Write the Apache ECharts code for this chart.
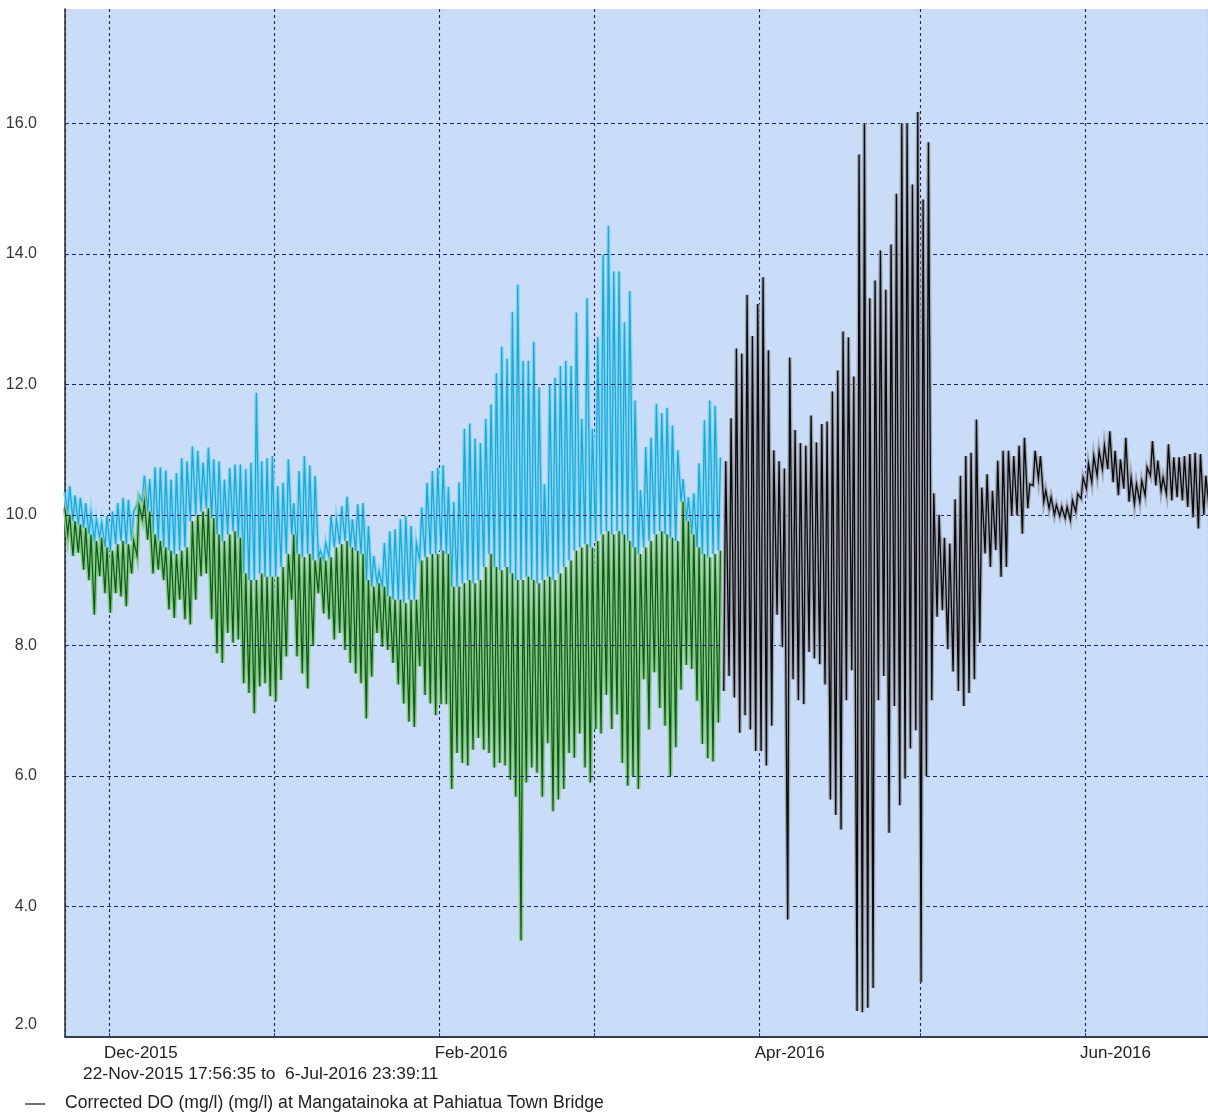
<!DOCTYPE html>
<html>
<head>
<meta charset="utf-8">
<script src="https://cdn.jsdelivr.net/npm/echarts@6/dist/echarts.min.js"></script>
<style>
html,body{margin:0;padding:0;background:#fff;}
#c{width:1208px;height:1115px;}
</style>
</head>
<body>
<div id="c"></div>
<script>
// ---- data ----
// day index n: date = 22-Nov-2015 + n days
// Upper (cyan) series: daily maxima, days 1..123
const cyanMax = [10.44,10.3,10.26,10.18,10.03,9.93,9.88,9.98,10.05,10.18,10.26,10.23,10.05,10.3,10.6,10.55,10.73,10.73,10.68,10.54,10.64,10.87,10.82,11.05,10.98,10.8,11.03,10.85,10.82,10.54,10.72,10.77,10.77,10.7,10.8,11.87,10.82,10.87,10.9,
10.44,10.49,10.85,10.18,10.67,10.9,10.76,10.6,9.45,9.57,9.98,9.93,10.13,10.28,9.93,10.16,10.18,9.83,9.37,9.14,9.57,9.75,9.78,9.93,9.98,9.83,9.57,10.11,10.49,10.67,10.72,
10.76,10.43,10.2,10.5,11.32,11.4,11.17,11.1,11.47,11.69,12.17,12.58,12.39,13.11,13.53,12.36,12.36,12.65,11.95,10.47,11.99,12.1,12.28,12.36,12.28,13.1,11.47,13.32,11.32,12.73,13.99,14.43,13.73,13.73,12.95,13.43,
11.75,10.38,11.04,11.18,11.7,11.56,11.64,11.37,10.99,10.55,10.27,10.33,10.79,11.45,11.75,11.67,10.88];
// boundary between cyan and green (green daily maxima / cyan daily minima), days 1..123
const boundary = [10.0,9.9,9.85,9.8,9.7,9.6,9.65,
9.5,9.45,9.55,9.6,9.55,9.6,
10.15,10.2,10.05,
9.7,9.6,9.5,9.45,9.4,9.45,9.5,
9.9,10.0,10.05,10.1,9.95,
9.7,9.6,9.7,9.75,9.65,
9.1,9.0,9.0,9.1,9.05,9.05,
9.05,9.2,9.4,9.7,9.4,9.35,9.4,9.3,
9.35,9.3,9.35,
9.5,9.55,9.6,9.5,9.45,9.4,
9.0,8.9,8.95,8.9,
8.75,8.7,8.7,8.65,8.7,8.7,
9.3,9.35,9.4,9.4,9.45,9.4,
8.9,8.9,8.95,9.0,8.95,9.0,9.2,9.4,
9.2,9.15,9.2,9.1,9.0,9.0,
9.05,9.0,8.95,9.0,9.05,9.0,9.1,9.2,9.3,
9.45,9.5,9.55,9.5,9.6,
9.7,9.75,9.7,9.75,9.7,9.6,
9.5,9.4,9.5,9.6,9.7,9.75,9.7,
9.65,9.6,10.2,9.9,9.7,9.5,9.4,9.35,9.4,9.45];
// lower (green) series: daily minima, days 1..123
const greenMin = [9.7,9.37,9.42,9.16,9.0,8.47,9.06,8.8,8.5,8.8,8.75,8.6,9.1,9.37,9.93,9.62,9.1,9.16,9.0,8.55,8.42,8.7,8.4,8.32,8.7,9.06,9.1,8.4,7.88,7.73,8.19,8.04,8.09,7.42,7.27,6.96,7.37,7.42,7.22,
7.14,7.47,7.83,8.7,7.83,7.57,7.34,8.0,8.8,8.49,8.4,8.09,8.19,7.93,7.73,7.57,7.42,6.88,7.52,8.19,7.98,7.93,7.73,7.4,7.11,6.83,6.75,7.68,7.24,7.11,6.93,
7.1,7.1,5.8,6.35,6.2,6.16,6.4,6.58,6.4,6.35,6.13,6.2,6.16,5.94,5.68,3.48,5.9,6.13,6.05,5.68,6.5,5.46,5.64,5.8,6.35,6.28,6.65,6.13,5.9,6.72,6.65,7.24,6.72,6.94,6.2,5.85,
6.0,5.8,7.48,6.71,7.59,7.04,6.77,6.0,6.44,7.32,7.7,7.64,7.15,6.49,6.27,6.22,6.82];
// first readings on 22-Nov-2015 evening
const firstCyan = 10.35;
const firstGreen = 10.1;
// black series, days 124..215: daily maxima and minima
const blackMax = [10.82,11.48,12.55,12.47,13.37,12.74,13.23,13.64,12.52,10.99,10.82,10.71,
12.41,11.3,11.1,11.06,11.52,11.11,11.39,11.43,11.89,12.21,12.81,12.72,12.12,
15.52,16.0,13.32,13.59,14.05,13.45,14.14,14.92,16.0,16.0,15.06,16.17,14.83,15.71,
10.33,10.0,9.65,9.56,10.24,10.6,10.9,10.95,11.46,10.42,10.62,10.37,10.83,10.98,10.98,10.9,11.06,11.18,
10.47,10.98,10.9,10.37,10.27,10.15,10.12,10.12,10.22,10.32,10.57,10.78,10.9,10.98,11.06,11.28,10.98,10.85,11.18,10.57,10.47,10.52,10.73,11.13,10.83,10.57,11.08,10.88,10.88,10.9,10.93,10.95,10.93,10.6,10.8];
const blackMin = [7.3,7.53,7.2,6.66,6.93,6.71,6.38,6.38,6.16,6.77,8.47,7.97,
3.8,7.48,7.16,7.1,7.9,7.8,7.71,7.4,5.64,5.4,5.18,7.16,7.62,
2.4,2.38,2.45,2.75,7.16,7.53,5.13,7.07,5.55,5.96,6.42,6.7,2.84,6.0,
7.16,8.44,8.54,7.94,7.6,7.3,7.07,7.27,7.48,8.04,9.41,9.2,9.46,9.05,9.2,9.99,9.99,9.71,
10.1,10.45,10.55,10.2,10.1,10.0,9.98,9.95,9.92,10.05,10.25,10.4,10.5,10.6,10.7,10.7,10.5,10.3,10.4,10.2,10.17,10.2,10.3,10.6,10.45,10.37,10.32,10.22,10.27,10.22,10.12,9.96,9.79,10.0,10.1];
const FIRST_BLACK_DAY = 124;
// axis labels
const xLabels = ['Dec-2015','Feb-2016','Apr-2016','Jun-2016'];
const xLabelDates = [[2015,11,1],[2016,1,1],[2016,3,1],[2016,5,1]];
const yTicks = [2,4,6,8,10,12,14,16];
const rangeText = '22-Nov-2015 17:56:35 to  6-Jul-2016 23:39:11';
const legendText = 'Corrected DO (mg/l) (mg/l) at Mangatainoka at Pahiatua Town Bridge';

// ---- build series ----
const t0 = new Date(2015,10,22,17,56,35).getTime();
const tEnd = new Date(2016,5,24,1,0,0).getTime();
function dayTime(n,h){ return new Date(2015,10,22+n,h,0,0).getTime(); }
const LOW_H = 6, HIGH_H = 15;
const cyanData = [[t0, firstCyan]];
const greenData = [[t0, firstGreen]];
for (let i=0;i<cyanMax.length;i++){
  const n=i+1;
  cyanData.push([dayTime(n,LOW_H), boundary[i]]);
  cyanData.push([dayTime(n,HIGH_H), cyanMax[i]]);
  greenData.push([dayTime(n,LOW_H), greenMin[i]]);
  greenData.push([dayTime(n,HIGH_H), boundary[i]]);
}
const blackData = [];
for (let i=0;i<blackMax.length;i++){
  const n=FIRST_BLACK_DAY+i;
  blackData.push([dayTime(n,LOW_H), blackMin[i]]);
  blackData.push([dayTime(n,HIGH_H), blackMax[i]]);
}

const FONT = 'Liberation Sans, Arial, sans-serif';
const GRID_COLOR = '#1b2478';
const chart = echarts.init(document.getElementById('c'), null, {renderer:'canvas'});
function lineSeries(data,color,width,z){
  return {type:'line',data:data,showSymbol:false,symbol:'none',animation:false,clip:true,
    lineStyle:{color:color,width:width,join:'miter'},z:z,silent:true};
}
chart.setOption({
  animation:false,
  backgroundColor:'#ffffff',
  grid:{left:65,top:9,right:0,bottom:78,show:true,backgroundColor:'#c9dcf8',borderWidth:0},
  xAxis:{type:'time',min:t0,max:tEnd,splitNumber:7,maxInterval:31*86400000,minInterval:28*86400000,
    axisLine:{show:true,lineStyle:{color:'#333d55',width:2}},
    axisTick:{show:true,inside:true,length:4,lineStyle:{color:'#333d55',width:1}},
    axisLabel:{show:false},
    splitLine:{show:true,lineStyle:{color:GRID_COLOR,width:1.1,type:[3,3]}}},
  yAxis:{type:'value',min:2,max:17.75,interval:2,
    axisLine:{show:true,lineStyle:{color:'#2a2a2a',width:1.5}},
    axisTick:{show:false},
    axisLabel:{fontFamily:FONT,fontSize:16,color:'#333',margin:28,
      formatter:function(v){ if(yTicks.indexOf(v)<0) return ''; return v===2?'{b|2.0}':v.toFixed(1); },
      rich:{b:{fontFamily:FONT,fontSize:16,color:'#333',padding:[0,0,24,0]}}},
    splitLine:{show:false}},
  series:[
    {type:'line',data:[],z:0,silent:true,
      markLine:{silent:true,symbol:'none',animation:false,label:{show:false},
        lineStyle:{color:GRID_COLOR,width:1.1,type:[4,3]},
        data:yTicks.slice(1).map(function(v){return {yAxis:v};})}},
    lineSeries(cyanData,'#8ed6ef',3.8,1),
    lineSeries(cyanData,'#18a9dc',1.3,2),
    lineSeries(greenData,'#8ac98a',4.2,3),
    lineSeries(greenData,'#0b5a15',1.25,4),
    lineSeries(blackData,'#a2a8b6',4.0,5),
    lineSeries(blackData,'#0a0a0a',1.35,6)
  ]
});

const gr = [];
const yBase = chart.convertToPixel({yAxisIndex:0}, 2);
for (let i=0;i<xLabels.length;i++){
  const d = xLabelDates[i];
  const px = chart.convertToPixel({xAxisIndex:0}, new Date(d[0],d[1],d[2]).getTime());
  gr.push({type:'text',left:px-5,top:yBase+8,style:{text:xLabels[i],font:'17px '+FONT,fill:'#222'}});
}
gr.push({type:'text',left:83,top:1066,style:{text:rangeText,font:'17.4px '+FONT,fill:'#222'}});
gr.push({type:'line',shape:{x1:25,y1:1104,x2:45,y2:1104},style:{stroke:'#444',lineWidth:1.5}});
gr.push({type:'text',left:65,top:1094,style:{text:legendText,font:'17.6px '+FONT,fill:'#222'}});
chart.setOption({graphic:gr});
</script>
</body>
</html>
